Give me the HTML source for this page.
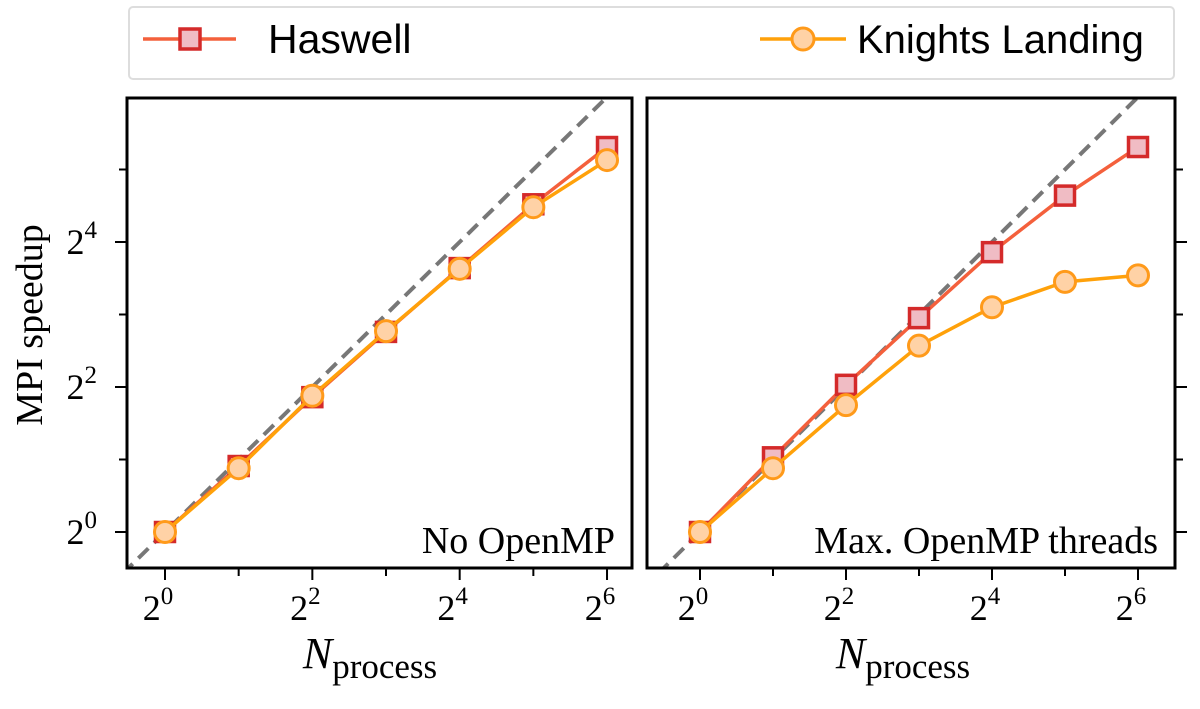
<!DOCTYPE html>
<html><head><meta charset="utf-8"><style>
body{margin:0;background:#fff;width:1200px;height:704px;overflow:hidden}
svg text{font-family:"Liberation Serif",serif;fill:#000}
</style></head><body>
<svg id="c" width="1200" height="704"></svg>
<script>
const xExp=[0,1,2,3,4,5,6];
const leftHaswell=[0,0.91,1.86,2.76,3.64,4.52,5.31];
const leftKNL=[0,0.88,1.88,2.77,3.63,4.48,5.13];
const rightHaswell=[0,1.03,2.03,2.95,3.86,4.64,5.31];
const rightKNL=[0,0.88,1.75,2.57,3.10,3.45,3.54];
const xTickExp=[0,1,2,3,4,5,6];
const yTickExp=[0,1,2,3,4,5];
const xLabelExp=[0,2,4,6];
const yLabelExp=[0,2,4];
const panelTitles=["No OpenMP","Max. OpenMP threads"];
const NS="http://www.w3.org/2000/svg";
const svg=document.getElementById('c');
function mk(t,a,p){const e=document.createElementNS(NS,t);for(const k in a)e.setAttribute(k,a[k]);(p||svg).appendChild(e);return e;}
const yTop=98,yBot=568;
const yS=v=>532-v*72.5;
const panels=[{x0:127,x1:632,ax:165,sc:73.67,h:leftHaswell,k:leftKNL,side:'left'},
              {x0:647,x1:1175,ax:700,sc:73,h:rightHaswell,k:rightKNL,side:'right'}];
panels.forEach((p,i)=>{
  const g=mk('g',{});
  
  
  const xS=v=>p.ax+v*p.sc;
  const cid='clip'+i;
  const cp=mk('clipPath',{id:cid},g);mk('rect',{x:p.x0,y:yTop,width:p.x1-p.x0,height:yBot-yTop},cp);
  const dl=mk('line',{x1:xS(-1),y1:yS(-1),x2:xS(7),y2:yS(7),stroke:'#777','stroke-width':4,'stroke-dasharray':'14,8','clip-path':`url(#${cid})`},g);
  
  
  [[p.h,'#f4603c','#d42a2a','#f0bcc4','sq','haswell'],[p.k,'#ffa10a','#ff9a1a','#ffd2a6','ci','knl']].forEach(s=>{
    const pl=mk('polyline',{points:xExp.map((x,j)=>xS(x)+','+yS(s[0][j])).join(' '),fill:'none',stroke:s[1],'stroke-width':3.5},g);
    
    
    xExp.forEach((x,j)=>{
      const cx=xS(x),cy=yS(s[0][j]);let m;
      if(s[4]=='sq')m=mk('rect',{x:cx-9.5,y:cy-9.5,width:19,height:19,fill:s[3],stroke:s[2],'stroke-width':3.5},g);
      else m=mk('circle',{cx:cx,cy:cy,r:10.5,fill:s[3],stroke:s[2],'stroke-width':3},g);
      
      
    });
  });
  mk('rect',{x:p.x0,y:yTop,width:p.x1-p.x0,height:yBot-yTop,fill:'none',stroke:'#000','stroke-width':3},g);
  xTickExp.forEach(t=>{
    mk('line',{x1:xS(t),y1:yBot,x2:xS(t),y2:yBot+(t%2?8:12),stroke:'#000','stroke-width':2},g);
  });
  yTickExp.forEach(t=>{
    const tx=p.side=='left'?p.x0:p.x1,d=p.side=='left'?-1:1;
    mk('line',{x1:tx,y1:yS(t),x2:tx+d*(t%2?8:12),y2:yS(t),stroke:'#000','stroke-width':2},g);
  });
  xLabelExp.forEach(t=>{
    const tl=mk('text',{x:xS(t)-7,y:620,'font-size':36,'text-anchor':'middle'},g);
    tl.innerHTML='2<tspan dy="-16" font-size="25">'+t+'</tspan>';
    
    
  });
  if(i==0) yLabelExp.forEach(t=>{
    const yl=mk('text',{x:97,y:yS(t)+12,'font-size':36,'text-anchor':'end'},g);
    yl.innerHTML='2<tspan dy="-16" font-size="25">'+t+'</tspan>';
    
    
  });
  const tt=mk('text',{x:p.x1-17,y:553,'font-size':38,'text-anchor':'end'},g);
  tt.textContent=panelTitles[i];
  
  
  const xt=mk('text',{x:xS(3)-16,y:668,'font-size':44,'text-anchor':'middle'},g);
  xt.innerHTML='<tspan font-style="italic">N</tspan><tspan dy="10" font-size="35">process</tspan>';
  
  
});
const yt=mk('text',{x:0,y:0,'font-size':38,'text-anchor':'middle',transform:'translate(42,325) rotate(-90)'});
yt.textContent='MPI speedup';


const lg=mk('g',{});


mk('rect',{x:129,y:7,width:1045,height:72,rx:4,fill:'#fff',stroke:'#ddd','stroke-width':2},lg);
mk('line',{x1:143,y1:39,x2:236,y2:39,stroke:'#f4603c','stroke-width':3.5},lg);
mk('rect',{x:180,y:29,width:20,height:20,fill:'#f0bcc4',stroke:'#d42a2a','stroke-width':3.5},lg);
const l1=mk('text',{x:268,y:53,'font-size':41,style:'font-family:"Liberation Sans",sans-serif'},lg);
l1.textContent='Haswell';


mk('line',{x1:760,y1:39,x2:846,y2:39,stroke:'#ffa10a','stroke-width':3.5},lg);
mk('circle',{cx:803,cy:39,r:11,fill:'#ffd2a6',stroke:'#ff9a1a','stroke-width':3},lg);
const l2=mk('text',{x:857,y:53,'font-size':40,style:'font-family:"Liberation Sans",sans-serif'},lg);
l2.textContent='Knights Landing';


</script>
</body></html>
